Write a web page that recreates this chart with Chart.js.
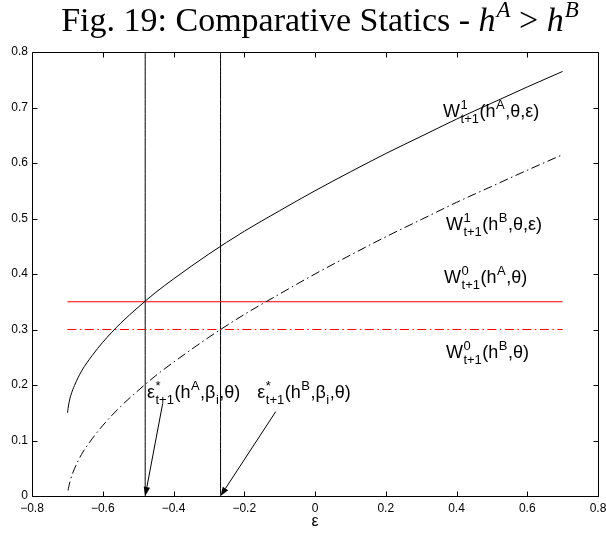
<!DOCTYPE html>
<html><head><meta charset="utf-8">
<script src="https://cdn.jsdelivr.net/npm/chart.js@4.4.1/dist/chart.umd.min.js"></script>
<style>html,body{margin:0;padding:0;background:#fff}#wrap{width:606px;height:533px;position:relative}</style>
</head><body><div id="wrap"><canvas id="c" width="606" height="533"></canvas></div>
<script>
// ---- data ----
const epsilonA = [-0.6995,-0.698,-0.696,-0.693,-0.69,-0.68,-0.66,-0.63,-0.6,-0.55,-0.5,-0.45,-0.4,-0.3,-0.2,-0.1,0,0.1,0.2,0.3,0.4,0.5,0.6,0.7];
const wA1 = [0.150,0.158,0.166,0.175,0.182,0.199,0.225,0.253,0.277,0.311,0.340,0.367,0.391,0.436,0.477,0.514,0.550,0.584,0.617,0.648,0.679,0.708,0.737,0.765];
const epsilonB = [-0.698,-0.696,-0.693,-0.69,-0.68,-0.66,-0.63,-0.6,-0.55,-0.5,-0.45,-0.4,-0.3,-0.2,-0.1,0,0.1,0.2,0.3,0.4,0.5,0.6,0.7];
const wB1 = [0.010,0.017,0.025,0.032,0.049,0.075,0.103,0.127,0.161,0.190,0.217,0.241,0.286,0.327,0.364,0.400,0.434,0.467,0.498,0.529,0.558,0.587,0.615];
const flatRange = [-0.7, 0.7];
const wA0 = 0.35;
const wB0 = 0.30;
const epsStarA = -0.48;
const epsStarB = -0.267;
const xTicks = [-0.8,-0.6,-0.4,-0.2,0,0.2,0.4,0.6,0.8];
const yTicks = [0,0.1,0.2,0.3,0.4,0.5,0.6,0.7,0.8];
// arrow tails (data units), heads at (epsStar, 0)
const arrowTailA = [-0.4305, 0.167];
const arrowTailB = [-0.111, 0.152];
// label anchors (left, baseline) in data units
const labels = [
  {pos:[0.362,0.683], parts:[{t:'W'},{sup:'1',sub:'t+1'},{t:'(h'},{sup:'A'},{t:',θ,ε)'}]},
  {pos:[0.370,0.479], parts:[{t:'W'},{sup:'1',sub:'t+1'},{t:'(h'},{sup:'B'},{t:',θ,ε)'}]},
  {pos:[0.365,0.383], parts:[{t:'W'},{sup:'0',sub:'t+1'},{t:'(h'},{sup:'A'},{t:',θ)'}]},
  {pos:[0.370,0.249], parts:[{t:'W'},{sup:'0',sub:'t+1'},{t:'(h'},{sup:'B'},{t:',θ)'}]},
  {pos:[-0.475,0.176], parts:[{t:'ε'},{sup:'*',sub:'t+1'},{t:'(h'},{sup:'A'},{t:',β'},{sub:'i'},{t:',θ)'}]},
  {pos:[-0.163,0.176], parts:[{t:'ε'},{sup:'*',sub:'t+1'},{t:'(h'},{sup:'B'},{t:',β'},{sub:'i'},{t:',θ)'}]}
];

const SANS = '"Liberation Sans", Arial, sans-serif';
const SERIF = '"Liberation Serif", "Times New Roman", serif';
const fmt = v => { const s = (Math.round(v*10)/10).toFixed(1); return s === '0.0' || s === '-0.0' ? '0' : s.replace('-', '\u2212'); };

function drawRich(ctx, x, y, parts) {
  const big = 'normal 18px ' + SANS, small = 'normal 13px ' + SANS;
  ctx.textBaseline = 'alphabetic'; ctx.textAlign = 'left'; ctx.fillStyle = '#000';
  for (const p of parts) {
    if (p.t !== undefined) { ctx.font = big; ctx.fillText(p.t, x, y); x += ctx.measureText(p.t).width; }
    else {
      ctx.font = small; let w = 0;
      if (p.sup) { ctx.fillText(p.sup, x + 0.5, y - 8); w = Math.max(w, ctx.measureText(p.sup).width); }
      if (p.sub) { ctx.fillText(p.sub, x + 0.5, y + 6); w = Math.max(w, ctx.measureText(p.sub).width); }
      x += w + 1;
    }
  }
}

const decor = {
  id: 'decor',
  afterDraw(chart) {
    const ctx = chart.ctx, a = chart.chartArea, xs = chart.scales.x, ys = chart.scales.y;
    ctx.save();
    ctx.strokeStyle = '#000'; ctx.lineWidth = 1;
    const L = Math.round(a.left)+0.5, R = Math.round(a.right)+0.5, T = Math.round(a.top)+0.5, B = Math.round(a.bottom)+0.5;
    ctx.beginPath();
    ctx.moveTo(L,T); ctx.lineTo(R,T); ctx.lineTo(R,B); ctx.lineTo(L,B); ctx.closePath();
    for (const v of xTicks) { const p = Math.round(xs.getPixelForValue(v))+0.5; ctx.moveTo(p,B); ctx.lineTo(p,B-5); ctx.moveTo(p,T); ctx.lineTo(p,T+5); }
    for (const v of yTicks) { const p = Math.round(ys.getPixelForValue(v))+0.5; ctx.moveTo(L,p); ctx.lineTo(L+5,p); ctx.moveTo(R,p); ctx.lineTo(R-5,p); }
    ctx.stroke();
    // arrows
    const arrows = [[arrowTailA,[epsStarA,0]],[arrowTailB,[epsStarB,0]]];
    ctx.fillStyle = '#000';
    for (const [t,h] of arrows) {
      const x1 = xs.getPixelForValue(t[0]), y1 = ys.getPixelForValue(t[1]);
      const x2 = xs.getPixelForValue(h[0]), y2 = ys.getPixelForValue(h[1]);
      const ang = Math.atan2(y2-y1, x2-x1), len = 9, hw = 3.2;
      const bx = x2 - len*Math.cos(ang), by = y2 - len*Math.sin(ang);
      ctx.beginPath(); ctx.moveTo(x1,y1); ctx.lineTo(bx,by); ctx.stroke();
      ctx.beginPath(); ctx.moveTo(x2,y2);
      ctx.lineTo(bx + hw*Math.sin(ang), by - hw*Math.cos(ang));
      ctx.lineTo(bx - hw*Math.sin(ang), by + hw*Math.cos(ang));
      ctx.closePath(); ctx.fill();
    }
    for (const lb of labels) drawRich(ctx, xs.getPixelForValue(lb.pos[0]), ys.getPixelForValue(lb.pos[1]), lb.parts);
    // title
    const tBig = '34px ' + SERIF, tIt = 'italic 34px ' + SERIF, tSup = 'italic 23px ' + SERIF;
    const segs = [[tBig,'Fig. 19: Comparative Statics - ',0],[tIt,'h',0],[tSup,'A',-14],[tBig,' > ',0],[tIt,'h',0],[tSup,'B',-14]];
    let total = 0;
    for (const s of segs) { ctx.font = s[0]; total += ctx.measureText(s[1]).width + (s[2] ? 1 : 0); }
    let x = 320 - total/2;
    ctx.textBaseline = 'alphabetic'; ctx.textAlign = 'left';
    for (const s of segs) { ctx.font = s[0]; ctx.fillText(s[1], x + (s[2]?1:0), 31 + s[2]); x += ctx.measureText(s[1]).width + (s[2]?1:0); }
    ctx.restore();
  }
};

const line = (pts, color, dash) => ({
  data: pts, borderColor: color, borderWidth: 1, borderDash: dash || [], pointRadius: 0,
  showLine: true, fill: false, cubicInterpolationMode: 'monotone'
});
const DD = [9, 3.5, 1.5, 3.5];

new Chart(document.getElementById('c'), {
  type: 'scatter',
  data: { datasets: [
    line(epsilonA.map((e,i)=>({x:e,y:wA1[i]})), '#000'),
    line(epsilonB.map((e,i)=>({x:e,y:wB1[i]})), '#000', DD),
    line(flatRange.map(e=>({x:e,y:wA0})), '#ff0000'),
    line(flatRange.map(e=>({x:e,y:wB0})), '#ff0000', DD),
    line([{x:epsStarA,y:0},{x:epsStarA,y:0.8}], '#000'),
    line([{x:epsStarB,y:0},{x:epsStarB,y:0.8}], '#000')
  ]},
  options: {
    responsive: false, animation: false, devicePixelRatio: 1,
    layout: { padding: { left: 0, right: 8, top: 52, bottom: 0 } },
    plugins: { legend: { display: false }, tooltip: { enabled: false } },
    scales: {
      x: { type: 'linear', min: -0.8, max: 0.8,
        grid: { display: false, drawTicks: false }, border: { display: false },
        ticks: { stepSize: 0.2, autoSkip: false, maxRotation: 0, padding: 5, color: '#000', font: { family: SANS, size: 12 }, callback: v => fmt(v) },
        title: { display: true, text: 'ε', color: '#000', font: { family: SANS, size: 16 }, padding: { top: 0, bottom: 2 } },
        afterFit: s => { s.height = 37; s.paddingLeft = 0; s.paddingRight = 0; }
      },
      y: { type: 'linear', min: 0, max: 0.8,
        grid: { display: false, drawTicks: false }, border: { display: false },
        ticks: { stepSize: 0.1, autoSkip: false, padding: 4, color: '#000', font: { family: SANS, size: 12 }, callback: v => fmt(v) },
        afterFit: s => { s.width = 32; s.paddingTop = 0; s.paddingBottom = 0; }
      }
    }
  },
  plugins: [decor]
});
</script></body></html>
